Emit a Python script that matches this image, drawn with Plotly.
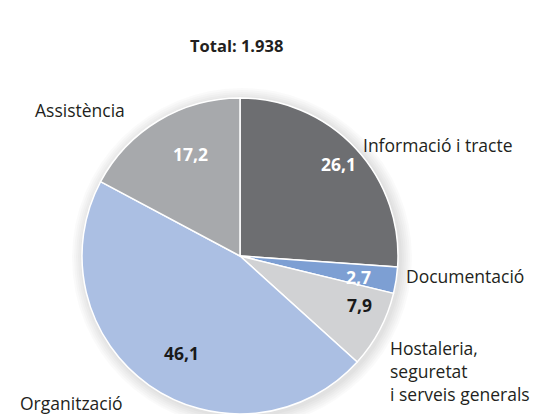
import math
import plotly.graph_objects as go

categories = ["Informació i tracte", "Documentació", "Hostaleria,<br>seguretat<br>i serveis generals", "Organització", "Assistència"]
values = [26.1, 2.7, 7.9, 46.1, 17.2]
value_labels = ["26,1", "2,7", "7,9", "46,1", "17,2"]
colors = ["#6d6e71", "#7d9fd3", "#d1d2d4", "#abbfe3", "#a7a9ac"]
value_font_colors = ["white", "white", "#1a1a1a", "#1a1a1a", "white"]
title_text = "Total: 1.938"

W, H = 539, 414
cx, cy, R = 232, 248, 158  # pie center/radius in pixels

FONT = "Open Sans"
TXT = "#231f20"

fig = go.Figure(go.Pie(
    labels=categories,
    values=values,
    sort=False,
    direction="clockwise",
    rotation=0,
    marker=dict(colors=colors, line=dict(color="white", width=1.5)),
    textinfo="none",
    hoverinfo="label+value",
    domain=dict(x=[(cx - R) / W, (cx + R) / W], y=[(H - cy - R) / H, (H - cy + R) / H]),
    showlegend=False,
))

# soft shadow halo around the pie
shapes = []
for k in range(1, 7):
    rr = R + 2 * k
    shapes.append(dict(type="circle", xref="paper", yref="paper",
                       x0=(cx - rr + 2) / W, x1=(cx + rr + 2) / W,
                       y0=1 - (cy + rr + 2) / H, y1=1 - (cy - rr + 2) / H,
                       fillcolor="rgba(0,0,0,0.018)", line=dict(width=0), layer="below"))

annotations = []
# value labels placed along slice bisectors
total = sum(values)
cum = 0
for v, lab, fc in zip(values, value_labels, value_font_colors):
    mid = (cum + v / 2) / total * 2 * math.pi
    cum += v
    r = 0.855 * R
    px = cx + r * math.sin(mid)
    py = cy - r * math.cos(mid)
    annotations.append(dict(x=px / W, y=1 - py / H, xref="paper", yref="paper",
                            text="<b>%s</b>" % lab, showarrow=False,
                            font=dict(family=FONT, size=17.5, color=fc)))

# category labels
label_pos = [
    (353, 137),
    (396, 268),
    (380, 363),
    (10, 395),
    (25, 102),
]
for cat, (lx, ly) in zip(categories, label_pos):
    annotations.append(dict(x=lx / W, y=1 - ly / H, xref="paper", yref="paper",
                            text=cat, showarrow=False, xanchor="left", yanchor="middle",
                            align="left", font=dict(family=FONT, size=17.5, color=TXT)))

annotations.append(dict(x=228 / W, y=1 - 24 / H, xref="paper", yref="paper",
                        text="<b>%s</b>" % title_text, showarrow=False,
                        font=dict(family=FONT, size=16.5, color=TXT)))

fig.update_layout(
    width=W, height=H,
    margin=dict(l=0, r=0, t=0, b=0),
    paper_bgcolor="white",
    plot_bgcolor="white",
    annotations=annotations,
    shapes=shapes,
)

fig.write_html("out.html")
